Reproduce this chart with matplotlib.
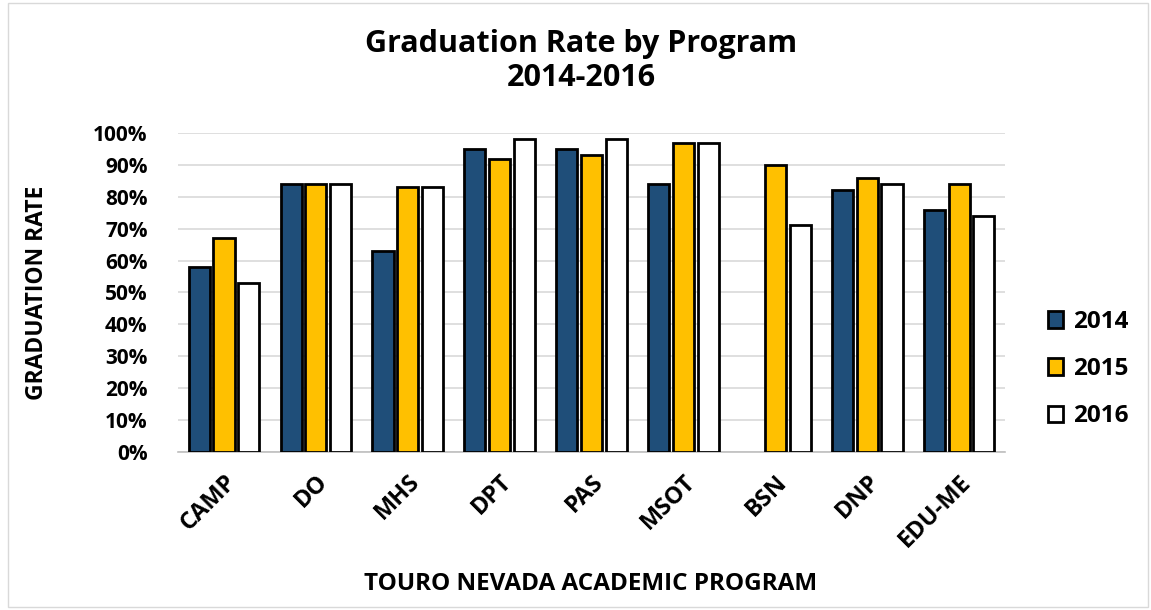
import matplotlib.pyplot as plt
import numpy as np
from matplotlib.patches import Rectangle

plt.rcParams['font.family'] = ['Open Sans', 'DejaVu Sans']

# data
programs = ['CAMP', 'DO', 'MHS', 'DPT', 'PAS', 'MSOT', 'BSN', 'DNP', 'EDU-ME']
rate_2014 = [58, 84, 63, 95, 95, 84, np.nan, 82, 76]
rate_2015 = [67, 84, 83, 92, 93, 97, 90, 86, 84]
rate_2016 = [53, 84, 83, 98, 98, 97, 71, 84, 74]
years = ['2014', '2015', '2016']
colors = ['#1F4E79', '#FFC000', '#FFFFFF']

fig = plt.figure(figsize=(11.51, 6.10), dpi=100)
ax = fig.add_axes([0.1547, 0.259, 0.7185, 0.523])

x = np.arange(len(programs))
width = 0.23
offset = 0.27
for i, (vals, c, lab) in enumerate(zip([rate_2014, rate_2015, rate_2016], colors, years)):
    ax.bar(x + (i - 1) * offset, vals, width, color=c, edgecolor='black',
           linewidth=2, label=lab, zorder=3)

ax.set_xlim(-0.5, 8.5)
ax.set_ylim(0, 100)
ax.set_yticks(np.arange(0, 101, 10))
ax.set_yticklabels([f'{v}%' for v in range(0, 101, 10)], fontsize=15, fontweight='bold')
ax.set_xticks(x)
ax.set_xticklabels(programs, rotation=45, ha='right', rotation_mode='anchor',
                   fontsize=17, fontweight='bold')
ax.tick_params(axis='both', length=0)
ax.tick_params(axis='x', pad=13)
ax.tick_params(axis='y', pad=22)
ax.yaxis.grid(True, color='#D9D9D9', linewidth=1.2, zorder=0)
for s in ['top', 'right', 'left']:
    ax.spines[s].set_visible(False)
ax.spines['bottom'].set_color('#BFBFBF')
ax.spines['bottom'].set_linewidth(1.2)

fig.text(0.032, 0.52, 'GRADUATION RATE', rotation=90, ha='center', va='center',
         fontsize=16.5, fontweight='bold')
fig.text(0.513, 0.043, 'TOURO NEVADA ACADEMIC PROGRAM', ha='center', va='center',
         fontsize=17.5, fontweight='bold')
fig.text(0.505, 0.9, 'Graduation Rate by Program\n2014-2016', ha='center', va='center',
         fontsize=22, fontweight='bold', linespacing=1.2)

ax.legend(loc='center left', bbox_to_anchor=(1.025, 0.26), frameon=False,
          prop={'weight': 'bold', 'size': 17.5}, handlelength=0.65,
          handleheight=0.65, labelspacing=0.95, handletextpad=0.4)

fig.patches.append(Rectangle((0.007, 0.005), 0.99, 0.99, transform=fig.transFigure,
                             fill=False, edgecolor='#D9D9D9', linewidth=1))

fig.savefig('out.png', dpi=100)
